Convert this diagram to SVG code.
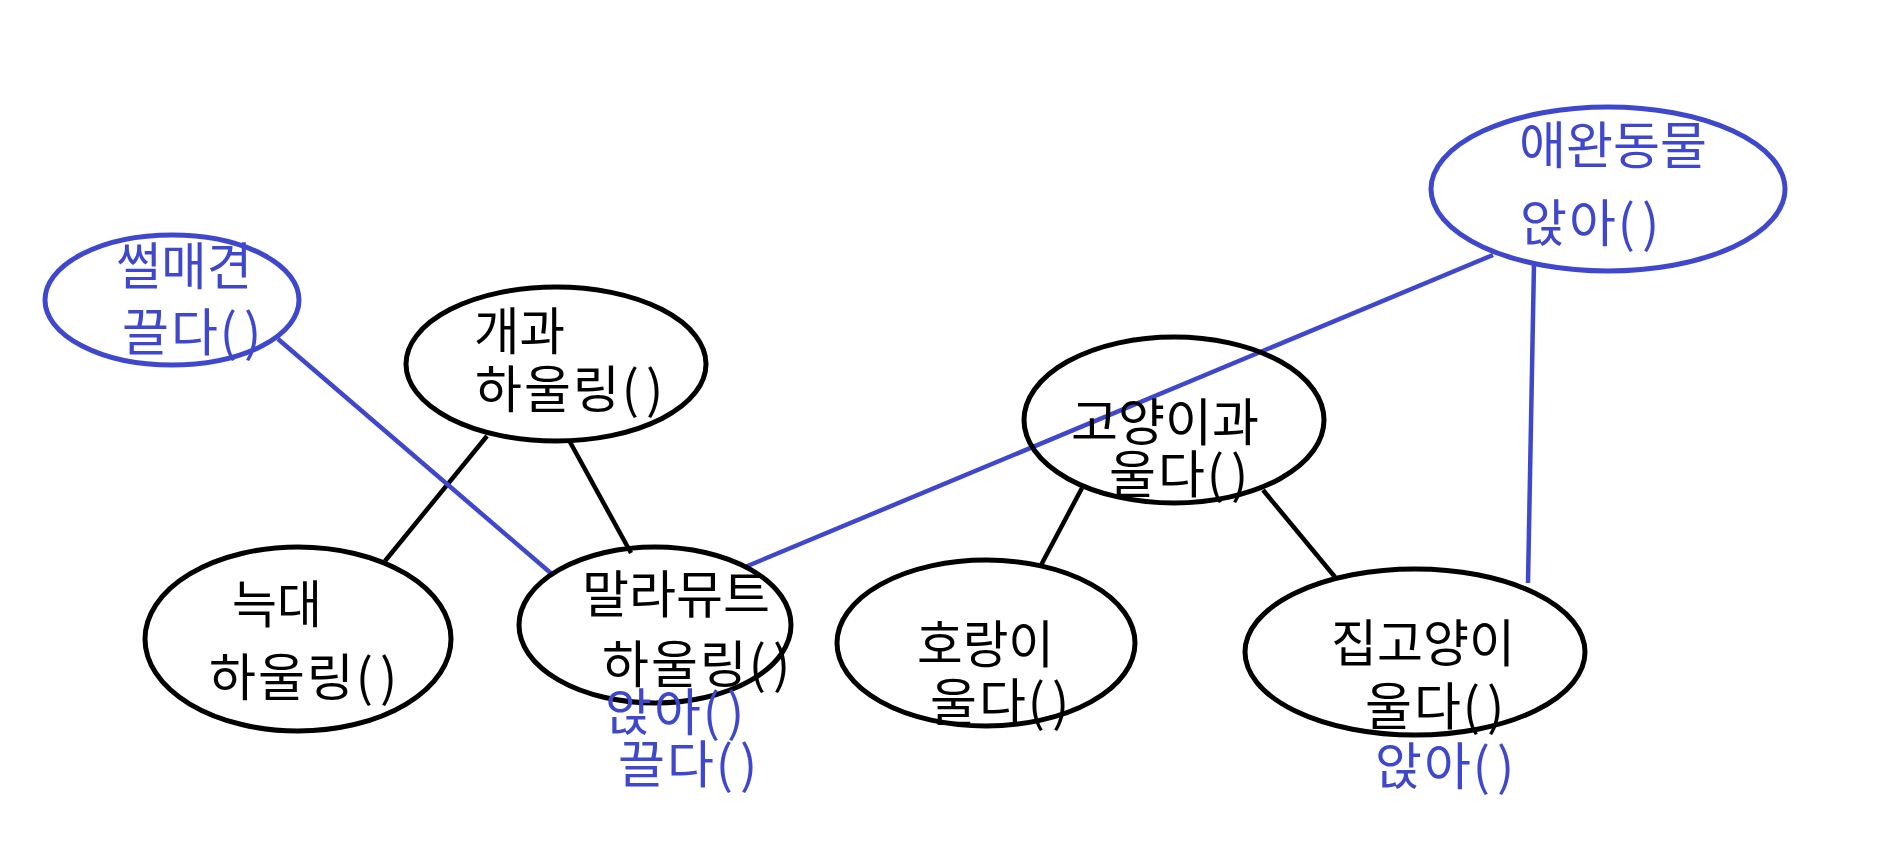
<svg xmlns="http://www.w3.org/2000/svg" width="1898" height="856" viewBox="0 0 1898 856">
<style>
.bg{fill:#ffffff}
.node{fill:none;stroke:#000000;stroke-width:5}
.bnode{fill:none;stroke:#3F48CC;stroke-width:5}
.edge{stroke:#000000;stroke-width:4.5;fill:none}
.bedge{stroke:#3F48CC;stroke-width:4.5;fill:none}
text{font-family:"Noto Sans CJK KR","Noto Sans",sans-serif;font-size:51px}
.m{letter-spacing:2px}
.k{fill:#000000}
.b{fill:#3F48CC}
</style>
<rect class="bg" x="0" y="0" width="1898" height="856"/>
<g id="connectors">
<line class="edge" x1="487" y1="436" x2="385" y2="561"/>
<line class="edge" x1="570" y1="442" x2="631" y2="553"/>
<line class="edge" x1="1082" y1="488" x2="1040" y2="567"/>
<line class="edge" x1="1263" y1="490" x2="1335" y2="577"/>
<line class="bedge" x1="278" y1="339" x2="553" y2="575"/>
<line class="bedge" x1="1493" y1="255" x2="745" y2="567"/>
<line class="bedge" x1="1534" y1="263" x2="1528" y2="583"/>
</g>
<g id="node-sled">
<ellipse class="bnode" cx="172" cy="300" rx="127" ry="65"/>
<text class="b" x="116" y="285" textLength="136" lengthAdjust="spacingAndGlyphs">썰매견</text>
<text class="b m" x="122" y="351">끌다(<tspan dx="5">)</tspan></text>
</g>
<g id="node-dog">
<ellipse class="node" cx="556" cy="364" rx="150" ry="77"/>
<text class="k" x="474" y="350" textLength="91" lengthAdjust="spacingAndGlyphs">개과</text>
<text class="k m" x="475" y="408">하울링(<tspan dx="5">)</tspan></text>
</g>
<g id="node-wolf">
<ellipse class="node" cx="298" cy="639" rx="153" ry="92"/>
<text class="k" x="232" y="623" textLength="90" lengthAdjust="spacingAndGlyphs">늑대</text>
<text class="k m" x="209" y="696">하울링(<tspan dx="5">)</tspan></text>
</g>
<g id="node-malamute">
<ellipse class="node" cx="655" cy="625" rx="136" ry="78"/>
<text class="k" x="582" y="613" textLength="188" lengthAdjust="spacingAndGlyphs">말라뮤트</text>
<text class="k m" x="602" y="683">하울링(<tspan dx="5">)</tspan></text>
<text class="b m" x="605" y="731">앉아(<tspan dx="5">)</tspan></text>
<text class="b m" x="618" y="783">끌다(<tspan dx="5">)</tspan></text>
</g>
<g id="node-tiger">
<ellipse class="node" cx="986" cy="643" rx="149" ry="83"/>
<text class="k" x="917" y="663" textLength="137" lengthAdjust="spacingAndGlyphs">호랑이</text>
<text class="k m" x="930" y="721">울다(<tspan dx="5">)</tspan></text>
</g>
<g id="node-feline">
<ellipse class="node" cx="1174" cy="420" rx="150" ry="83"/>
<text class="k" x="1071" y="441" textLength="188" lengthAdjust="spacingAndGlyphs">고양이과</text>
<text class="k m" x="1109" y="493">울다(<tspan dx="5">)</tspan></text>
</g>
<g id="node-housecat">
<ellipse class="node" cx="1415" cy="652" rx="170" ry="83"/>
<text class="k" x="1331" y="662" textLength="184" lengthAdjust="spacingAndGlyphs">집고양이</text>
<text class="k m" x="1365" y="725">울다(<tspan dx="5">)</tspan></text>
<text class="b m" x="1375" y="785">앉아(<tspan dx="5">)</tspan></text>
</g>
<g id="node-pet">
<ellipse class="bnode" cx="1608" cy="189" rx="177" ry="82"/>
<text class="b" x="1519" y="164" textLength="188" lengthAdjust="spacingAndGlyphs">애완동물</text>
<text class="b m" x="1520" y="242">앉아(<tspan dx="5">)</tspan></text>
</g>
</svg>
